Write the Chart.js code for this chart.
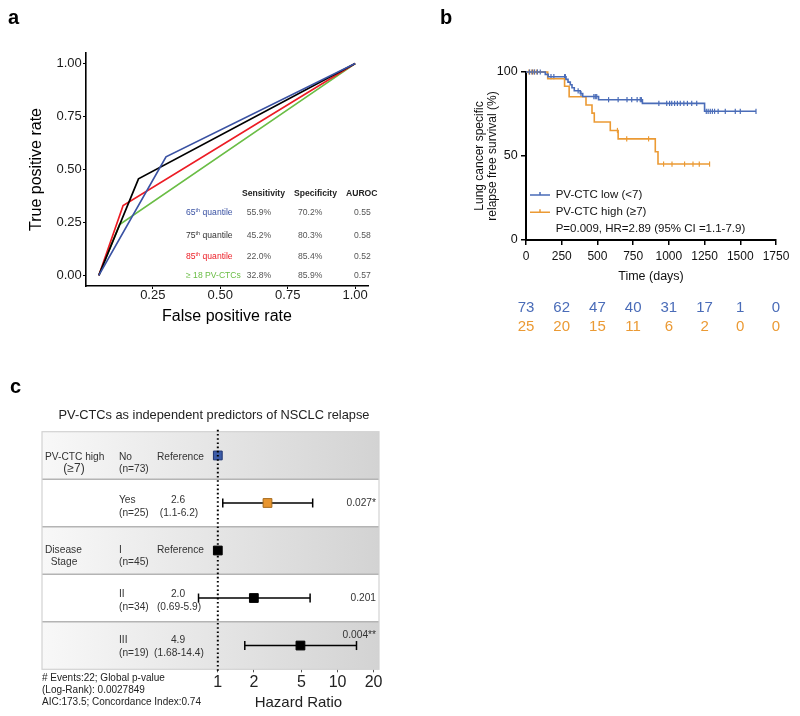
<!DOCTYPE html>
<html>
<head>
<meta charset="utf-8">
<script src="https://cdn.jsdelivr.net/npm/chart.js@4.4.1/dist/chart.umd.min.js"></script>
<style>
  body { margin: 0; background: #fff; }
  #wrap { position: relative; width: 800px; height: 716px; font-family: 'Liberation Sans', Arial, sans-serif; }
  canvas { position: absolute; }
  .lbl { position: absolute; line-height: 1; transform: translateY(-50%); white-space: nowrap; }
  .panel { font-weight: bold; font-size: 20px; color: #000; }
  .roc { font-size: 8.6px; color: #555; }
  .roc sup { font-size: 5.5px; vertical-align: 3px; }
  .hd { font-weight: bold; color: #222; }
</style>
</head>
<body>
<div id="wrap">
  <canvas id="rocChart" width="400" height="335" style="left:0;top:0"></canvas>
  <canvas id="kmChart" width="400" height="340" style="left:400px;top:0"></canvas>
  <canvas id="forestChart" width="400" height="346" style="left:0;top:370px"></canvas>
</div>
<script>
// ---- panel a: ROC curves ----
const rocNames = ['65<sup>th</sup> quantile', '75<sup>th</sup> quantile', '85<sup>th</sup> quantile', '≥ 18 PV-CTCs'];
const rocFpr = [[0.05, 0.299, 1], [0.05, 0.197, 1], [0.05, 0.14, 1], [0.05, 0.127, 1]];
const rocTpr = [[0, 0.56, 1], [0, 0.456, 1], [0, 0.33, 1], [0, 0.24, 1]];
const rocSens = ['55.9%', '45.2%', '22.0%', '32.8%'];
const rocSpec = ['70.2%', '80.3%', '85.4%', '85.9%'];
const rocAuc = ['0.55', '0.58', '0.52', '0.57'];
const rocTicks = [0, 0.25, 0.5, 0.75, 1];

// ---- panel b: Kaplan-Meier ----
const kmLowT = [0, 135, 155, 280, 294, 310, 322, 338, 380, 397, 508, 815, 1250, 1610];
const kmLowS = [100, 98.6, 97.2, 95.6, 94.0, 92.4, 90.6, 88.8, 87.2, 85.4, 83.5, 81.3, 76.6, 76.6];
const kmHighT = [0, 152, 270, 302, 420, 462, 478, 590, 645, 905, 924, 1285];
const kmHighS = [100, 96, 91.5, 85.3, 80.4, 75.5, 70.2, 65.2, 60.2, 52.5, 45.2, 45.2];
const lowCensor = [25, 45, 60, 80, 100, 175, 195, 270, 276, 365, 385, 475, 485, 495, 578, 645, 707, 740, 778,
  800, 808, 930, 985, 1005, 1020, 1040, 1060, 1080, 1105, 1130, 1160, 1195, 1262, 1275, 1290, 1305, 1320,
  1345, 1395, 1465, 1500, 1610];
const highCensor = [20, 40, 55, 75, 640, 705, 858, 963, 1022, 1110, 1169, 1213, 1285];
const riskTimes = [0, 250, 500, 750, 1000, 1250, 1500, 1750];
const riskLow = [73, 62, 47, 40, 31, 17, 1, 0];
const riskHigh = [25, 20, 15, 11, 6, 2, 0, 0];

// ---- panel c: forest plot ----
const forestGroups = [['PV-CTC high', '(≥7)'], null, ['Disease', 'Stage'], null, null];
const forestLevels = ['No', 'Yes', 'I', 'II', 'III'];
const forestN = ['(n=73)', '(n=25)', '(n=45)', '(n=34)', '(n=19)'];
const forestHr = [1, 2.6, 1, 2.0, 4.9];
const forestLo = [null, 1.1, null, 0.69, 1.68];
const forestHi = [null, 6.2, null, 5.9, 14.4];
const forestHrText = ['Reference', '2.6', 'Reference', '2.0', '4.9'];
const forestCiText = ['', '(1.1-6.2)', '', '(0.69-5.9)', '(1.68-14.4)'];
const forestP = ['', '0.027*', '', '0.201', '0.004**'];
const forestTicks = [1, 2, 5, 10, 20];
const forestNotes = ['# Events:22; Global p-value', '(Log-Rank): 0.0027849', 'AIC:173.5; Concordance Index:0.74'];

const FONT = "'Liberation Sans', Arial, sans-serif";
Chart.defaults.font.family = FONT;
Chart.defaults.animation = false;

const rocColors = ['#3a52a3', '#000000', '#ec1c24', '#6abd45'];
const lowColor = '#4a6cb8';
const highColor = '#eb9a34';
const squareFill = ['#3c5ca8', '#e8952f', '#000', '#000', '#000'];
const squareBorder = ['#1f3470', '#a66a1c', '#000', '#000', '#000'];

const wrap = document.getElementById('wrap');
function addText(html, x, y, cls, style) {
  const d = document.createElement('div');
  d.className = 'lbl ' + (cls || '');
  d.innerHTML = html;
  d.style.left = x + 'px';
  d.style.top = y + 'px';
  Object.assign(d.style, style || {});
  wrap.appendChild(d);
}

// panel letters
addText('a', 8, 17, 'panel');
addText('b', 440, 17, 'panel');
addText('c', 10, 386, 'panel');

// ROC table
addText('Sensitivity', 242, 193, 'roc hd');
addText('Specificity', 294, 193, 'roc hd');
addText('AUROC', 346, 193, 'roc hd');
const rocRowY = [212, 234.7, 256.3, 275];
rocNames.forEach((n, i) => {
  addText(n, 186, rocRowY[i], 'roc', {color: i === 1 ? '#333' : rocColors[i]});
  addText(rocSens[i], 246.7, rocRowY[i], 'roc');
  addText(rocSpec[i], 298, rocRowY[i], 'roc');
  addText(rocAuc[i], 354, rocRowY[i], 'roc');
});

new Chart(document.getElementById('rocChart'), {
  type: 'scatter',
  data: {
    datasets: rocNames.map((n, i) => ({
      data: rocFpr[i].map((x, j) => ({x: x, y: rocTpr[i][j]})),
      showLine: true,
      borderColor: rocColors[i],
      borderWidth: 1.7,
      pointRadius: 0
    }))
  },
  options: {
    responsive: false,
    layout: {padding: {left: 0, top: 53, right: 32, bottom: 5}},
    plugins: {legend: {display: false}, tooltip: {enabled: false}},
    scales: {
      x: {
        type: 'linear', min: 0.0025, max: 1.0475,
        afterBuildTicks: s => { s.ticks = rocTicks.slice(1).map(v => ({value: v})); },
        afterFit: s => { s.height = 44; },
        ticks: {callback: v => v.toFixed(2), color: '#1a1a1a', font: {size: 13, lineHeight: 1}, padding: 0, maxRotation: 0},
        grid: {drawOnChartArea: false, tickLength: 3, color: '#000', lineWidth: 1},
        border: {color: '#000', width: 1.6},
        title: {display: true, text: 'False positive rate', color: '#000', font: {size: 16}, padding: {top: 0, bottom: 3.4}}
      },
      y: {
        type: 'linear', min: -0.05, max: 1.05,
        afterBuildTicks: s => { s.ticks = rocTicks.map(v => ({value: v})); },
        afterFit: s => { s.width = 86; },
        ticks: {callback: v => v.toFixed(2), color: '#1a1a1a', font: {size: 13}, padding: 1.3},
        grid: {drawOnChartArea: false, tickLength: 3, color: '#000', lineWidth: 1},
        border: {color: '#000', width: 1.6},
        title: {display: true, text: 'True positive rate', color: '#000', font: {size: 16}, padding: {top: 27.4, bottom: 0}}
      }
    }
  }
});

// ---- KM chart ----
function survivalAt(ts, ss, t) {
  let s = ss[0];
  for (let i = 0; i < ts.length; i++) if (ts[i] <= t) s = ss[i];
  return s;
}

const kmExtras = {
  id: 'kmExtras',
  afterDraw(chart) {
    const {ctx, scales: {x}} = chart;
    ctx.save();
    ctx.font = '15px ' + FONT;
    ctx.textAlign = 'center';
    ctx.textBaseline = 'middle';
    riskTimes.forEach((t, i) => {
      const px = x.getPixelForValue(t);
      ctx.fillStyle = lowColor;
      ctx.fillText(String(riskLow[i]), px, 308);
      ctx.fillStyle = highColor;
      ctx.fillText(String(riskHigh[i]), px, 327);
    });
    // legend
    const items = [['PV-CTC low (<7)', lowColor, 195], ['PV-CTC high (≥7)', highColor, 212.3]];
    ctx.lineWidth = 1.5;
    items.forEach(([txt, col, yy]) => {
      ctx.strokeStyle = col;
      ctx.beginPath();
      ctx.moveTo(130, yy); ctx.lineTo(150, yy);
      ctx.moveTo(140, yy); ctx.lineTo(140, yy - 3);
      ctx.stroke();
      ctx.fillStyle = '#111';
      ctx.font = '11.5px ' + FONT;
      ctx.textAlign = 'left';
      ctx.fillText(txt, 155.7, yy);
    });
    ctx.fillText('P=0.009, HR=2.89 (95% CI =1.1-7.9)', 155.7, 229.3);
    ctx.restore();
  }
};

new Chart(document.getElementById('kmChart'), {
  type: 'scatter',
  data: {
    datasets: [
      {data: kmLowT.map((t, i) => ({x: t, y: kmLowS[i]})), showLine: true, stepped: true,
        borderColor: lowColor, borderWidth: 1.6, pointRadius: 0, clip: false},
      {data: kmHighT.map((t, i) => ({x: t, y: kmHighS[i]})), showLine: true, stepped: true,
        borderColor: highColor, borderWidth: 1.6, pointRadius: 0, clip: false},
      {data: lowCensor.map(t => ({x: t, y: survivalAt(kmLowT, kmLowS, t)})), showLine: false,
        pointStyle: 'line', pointRotation: 90, pointRadius: 2.6, pointBorderWidth: 1.2, borderColor: lowColor, clip: false},
      {data: highCensor.map(t => ({x: t, y: survivalAt(kmHighT, kmHighS, t)})), showLine: false,
        pointStyle: 'line', pointRotation: 90, pointRadius: 2.6, pointBorderWidth: 1.2, borderColor: highColor, clip: false}
    ]
  },
  options: {
    responsive: false,
    layout: {padding: {left: 0, top: 72, right: 24, bottom: 50}},
    plugins: {legend: {display: false}, tooltip: {enabled: false}},
    scales: {
      x: {
        type: 'linear', min: 0, max: 1750,
        afterBuildTicks: s => { s.ticks = riskTimes.map(v => ({value: v})); },
        afterFit: s => { s.height = 50; },
        ticks: {callback: v => String(v), color: '#111', font: {size: 12}, padding: 4, maxRotation: 0, autoSkip: false},
        grid: {drawOnChartArea: false, tickLength: 5, color: '#000', lineWidth: 1.5},
        border: {color: '#000', width: 2},
        title: {display: true, text: 'Time (days)', color: '#111', font: {size: 12.5}, padding: {top: 0, bottom: 5.5}}
      },
      y: {
        type: 'linear', min: 0, max: 100,
        afterBuildTicks: s => { s.ticks = [0, 50, 100].map(v => ({value: v})); },
        afterFit: s => { s.width = 126; },
        ticks: {callback: v => String(v), color: '#111', font: {size: 12.5}, padding: 3.4},
        grid: {drawOnChartArea: false, tickLength: 5, color: '#000', lineWidth: 1.5},
        border: {color: '#000', width: 2},
        title: {display: true, text: ['Lung cancer specific', 'relapse free survival (%)'], color: '#111',
          font: {size: 12, lineHeight: 1.1}, padding: {top: 73, bottom: 0}}
      }
    }
  },
  plugins: [kmExtras]
});

// ---- Forest plot ----
const forestBg = {
  id: 'forestBg',
  beforeDatasetsDraw(chart) {
    const {ctx, chartArea: a, scales: {y}} = chart;
    ctx.save();
    for (let i = 0; i < forestLevels.length; i++) {
      const top = y.getPixelForValue(i), bot = y.getPixelForValue(i + 1);
      if (i % 2 === 0) {
        const g = ctx.createLinearGradient(a.left, 0, a.right, 0);
        g.addColorStop(0, '#f8f8f8');
        g.addColorStop(1, '#d3d3d3');
        ctx.fillStyle = g;
      } else {
        ctx.fillStyle = '#ffffff';
      }
      ctx.fillRect(a.left, top, a.right - a.left, bot - top);
    }
    ctx.strokeStyle = '#b4b4b4';
    ctx.lineWidth = 1.5;
    ctx.beginPath();
    for (let i = 1; i < forestLevels.length; i++) {
      const yy = y.getPixelForValue(i);
      ctx.moveTo(a.left, yy); ctx.lineTo(a.right, yy);
    }
    ctx.stroke();
    ctx.strokeStyle = '#d2d2d2';
    ctx.lineWidth = 1.2;
    ctx.strokeRect(a.left, a.top, a.right - a.left, a.bottom - a.top);
    ctx.restore();
  },
  afterDraw(chart) {
    const {ctx, chartArea: a, scales: {x, y}} = chart;
    const textY1 = [87, 130, 180, 224, 270];
    const textY2 = [99, 143, 192, 237, 283];
    ctx.save();
    ctx.textBaseline = 'middle';
    ctx.fillStyle = '#222';
    ctx.font = '12.8px ' + FONT;
    ctx.textAlign = 'center';
    ctx.fillText('PV-CTCs as independent predictors of NSCLC relapse', 214, 45);
    ctx.fillStyle = '#333';
    forestLevels.forEach((lv, i) => {
      const g = forestGroups[i];
      if (g) {
        ctx.textAlign = 'left';
        ctx.font = '10.2px ' + FONT;
        ctx.fillText(g[0], 45, textY1[i]);
        ctx.textAlign = 'center';
        ctx.font = (i === 0 ? '12px ' : '10.2px ') + FONT;
        ctx.fillText(g[1], i === 0 ? 74 : 64, textY2[i]);
      }
      ctx.font = '10.2px ' + FONT;
      ctx.textAlign = 'left';
      ctx.fillText(lv, 119, textY1[i]);
      ctx.fillText(forestN[i], 119, textY2[i]);
      if (forestHrText[i] === 'Reference') {
        ctx.fillText(forestHrText[i], 157, textY1[i]);
      } else {
        ctx.textAlign = 'center';
        ctx.fillText(forestHrText[i], 178, textY1[i]);
        ctx.fillText(forestCiText[i], 179, textY2[i]);
      }
      if (forestP[i]) {
        ctx.textAlign = 'right';
        const py = i === 4 ? y.getPixelForValue(i + 0.5) - 10 : y.getPixelForValue(i + 0.5);
        ctx.fillText(forestP[i], 376, py);
      }
    });
    ctx.textAlign = 'left';
    ctx.fillStyle = '#222';
    ctx.font = '10px ' + FONT;
    forestNotes.forEach((t, i) => ctx.fillText(t, 42, 308.3 + i * 12.2));
    ctx.textAlign = 'center';
    ctx.font = '15px ' + FONT;
    ctx.fillText('Hazard Ratio', (x.getPixelForValue(1) + a.right) / 2, 333.3);
    ctx.restore();
  }
};

const ciSets = [];
forestHr.forEach((hr, i) => {
  if (forestLo[i] == null) return;
  ciSets.push({
    data: [{x: forestLo[i], y: i + 0.5}, {x: forestHi[i], y: i + 0.5}],
    showLine: true, borderColor: '#000', borderWidth: 1.5,
    pointStyle: 'line', pointRotation: 90, pointRadius: 4.5, pointBorderWidth: 1.5, pointBorderColor: '#000', clip: false
  });
});

new Chart(document.getElementById('forestChart'), {
  type: 'scatter',
  data: {
    datasets: [
      {data: [{x: 1, y: -0.04}, {x: 1, y: 5.06}], showLine: true, borderColor: '#000', borderWidth: 2,
        borderDash: [1.6, 2.6], pointRadius: 0, clip: false},
      {data: forestHr.map((hr, i) => ({x: hr, y: i + 0.5})), showLine: false, pointStyle: 'rect', pointRadius: 6.2,
        pointBackgroundColor: squareFill, pointBorderColor: squareBorder, pointBorderWidth: 1, clip: false},
      ...ciSets
    ]
  },
  options: {
    responsive: false,
    layout: {padding: {left: 42, top: 61.7, right: 21, bottom: 0}},
    plugins: {legend: {display: false}, tooltip: {enabled: false}},
    scales: {
      x: {
        type: 'logarithmic', min: 0.034, max: 22.2,
        afterBuildTicks: s => { s.ticks = forestTicks.map(v => ({value: v})); },
        afterFit: s => { s.height = 46.7; },
        ticks: {callback: v => String(v), color: '#222', font: {size: 16}, padding: 1, maxRotation: 0, autoSkip: false},
        grid: {drawOnChartArea: false, tickLength: 3, color: '#555', lineWidth: 1},
        border: {display: false}
      },
      y: {type: 'linear', min: 0, max: 5, reverse: true, display: false}
    }
  },
  plugins: [forestBg]
});
</script>
</body>
</html>
